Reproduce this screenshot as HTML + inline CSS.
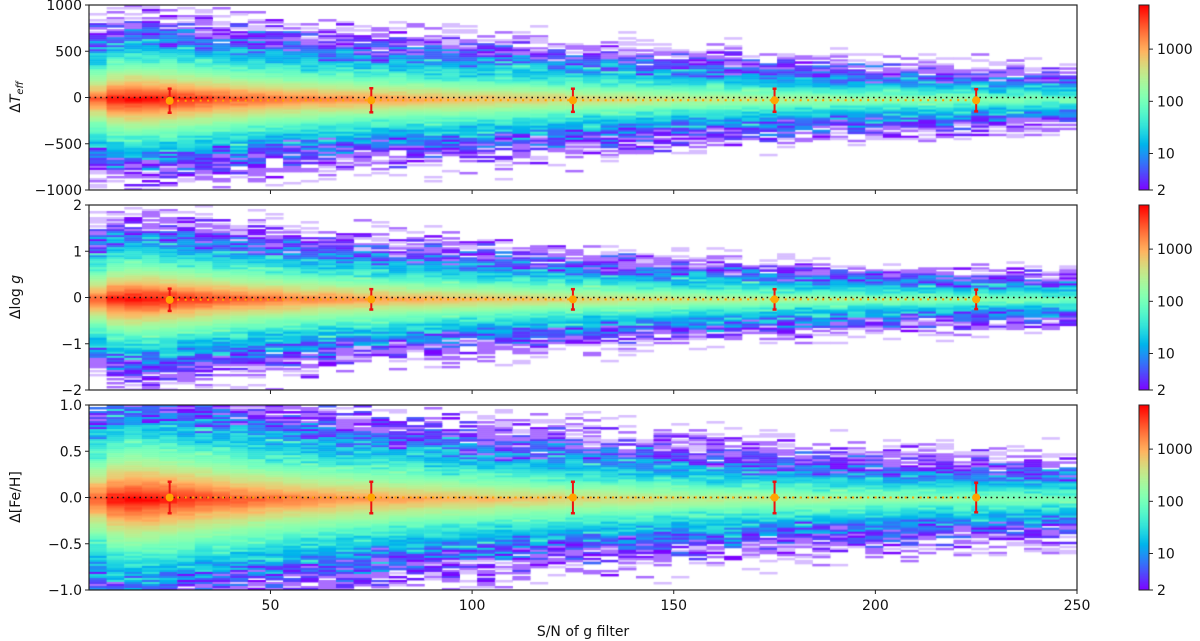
<!DOCTYPE html>
<html><head><meta charset="utf-8">
<style>
body{margin:0;background:#fff;width:1200px;height:641px;overflow:hidden;position:relative;font-family:"DejaVu Sans","Liberation Sans",sans-serif}
canvas{position:absolute}
svg{position:absolute;left:0;top:0}
</style></head><body>
<canvas id="c0" width="988" height="185" style="left:89px;top:5px"></canvas>
<canvas id="c1" width="988" height="185" style="left:89px;top:205px"></canvas>
<canvas id="c2" width="988" height="185" style="left:89px;top:405px"></canvas>
<canvas id="cb0" width="10" height="185" style="left:1139px;top:5px"></canvas>
<canvas id="cb1" width="10" height="185" style="left:1139px;top:205px"></canvas>
<canvas id="cb2" width="10" height="185" style="left:1139px;top:405px"></canvas>
<svg id="ov" width="1200" height="641"></svg>
<script>
// ---- data ----
const xMin = 5, xMax = 250, binW = 4.375;
const peakCounts = [3000,6000,7000,6500,5600,4800,4100,3500,3000,2600,2300,2050,1850,1700,1550,1450,1350,1250,1150,1080,1000,930,870,810,760,710,660,620,580,540,500,470,440,410,380,360,340,320,300,285,270,255,240,228,216,205,195,185,176,168,160,152,145,138,131,125];
const scaleTeff = [0.105,0.106,0.106,0.106,0.106,0.106,0.106,0.106,0.106,0.105,0.105,0.105,0.105,0.105,0.104,0.104,0.104,0.104,0.104,0.103,0.103,0.103,0.102,0.102,0.101,0.1,0.099,0.098,0.097,0.096,0.095,0.094,0.093,0.092,0.091,0.09,0.089,0.088,0.087,0.086,0.085,0.084,0.083,0.082,0.081,0.08,0.079,0.078,0.077,0.076,0.075,0.074,0.074,0.073,0.073,0.072];
const scaleLogg = [0.105,0.106,0.106,0.106,0.106,0.105,0.105,0.104,0.104,0.103,0.103,0.102,0.101,0.1,0.099,0.098,0.097,0.096,0.095,0.094,0.093,0.092,0.091,0.09,0.089,0.088,0.087,0.086,0.085,0.084,0.083,0.082,0.081,0.08,0.079,0.078,0.077,0.076,0.075,0.074,0.073,0.072,0.071,0.07,0.07,0.069,0.069,0.068,0.068,0.067,0.067,0.066,0.066,0.066,0.065,0.065];
const scaleFeh = [0.15,0.152,0.152,0.151,0.15,0.149,0.148,0.147,0.146,0.145,0.144,0.143,0.142,0.14,0.139,0.138,0.136,0.135,0.134,0.132,0.131,0.13,0.128,0.127,0.126,0.124,0.123,0.122,0.121,0.12,0.119,0.118,0.117,0.116,0.115,0.114,0.113,0.112,0.111,0.11,0.11,0.109,0.109,0.108,0.108,0.107,0.107,0.106,0.106,0.105,0.105,0.105,0.104,0.104,0.104,0.104];
const errSN = [25,75,125,175,225];
const meanTeff = [-35,-30,-30,-30,-30];
const sdTeff = [130,130,125,125,120];
const meanLogg = [-0.05,-0.04,-0.04,-0.04,-0.04];
const sdLogg = [0.24,0.22,0.22,0.22,0.21];
const meanFeh = [0,0,0,0,0];
const sdFeh = [0.17,0.17,0.17,0.17,0.16];
const yTicksTeff = [1000,500,0,-500,-1000];
const yTickLblTeff = ["1000","500","0","\u2212500","\u22121000"];
const yTicksLogg = [2,1,0,-1,-2];
const yTickLblLogg = ["2","1","0","\u22121","\u22122"];
const yTicksFeh = [1,0.5,0,-0.5,-1];
const yTickLblFeh = ["1.0","0.5","0.0","\u22120.5","\u22121.0"];
const xTicks = [50,100,150,200,250];
const cbTicks = [2,10,100,1000];
const cbLabels = ["2","10","100","1000"];
const vmin = 2, vmax = 7000;

// ---- helpers ----
const L = 89, R = 1077, H = 185;
const tops = [5,205,405];
const xs = v => L + (v - xMin) / (xMax - xMin) * (R - L);
function rainbow(t){t=Math.max(0,Math.min(1,t));
  const r=Math.min(1,Math.abs(2*t-0.5)),g=Math.sin(Math.PI*t),b=Math.cos(Math.PI*t/2);
  return `rgb(${Math.round(r*255)},${Math.round(g*255)},${Math.round(b*255)})`;}
const cnorm = c => (Math.log10(c)-Math.log10(vmin))/(Math.log10(vmax)-Math.log10(vmin));
function hash(a,b,p){let h=(a*374761393+b*668265263+p*2147483647)|0;h=(h^(h>>>13))*1274126177|0;h^=h>>>16;return ((h>>>0)%100000)/100000;}

const panels = [
 {scale:scaleTeff, half:1000, mean:meanTeff, sd:sdTeff, ticks:yTicksTeff, lbl:yTickLblTeff},
 {scale:scaleLogg, half:2, mean:meanLogg, sd:sdLogg, ticks:yTicksLogg, lbl:yTickLblLogg},
 {scale:scaleFeh, half:1, mean:meanFeh, sd:sdFeh, ticks:yTicksFeh, lbl:yTickLblFeh}
];
const NS = "http://www.w3.org/2000/svg";
const ov = document.getElementById('ov');
function el(tag, attrs, parent, name, txt){
  const e=document.createElementNS(NS,tag);
  for(const k in attrs)e.setAttribute(k,attrs[k]);
  
  
  if(txt!==undefined)e.textContent=txt;
  (parent||ov).appendChild(e);return e;}

const rows = 92;
panels.forEach((p,pi)=>{
  const top=tops[pi];
  const ys = v => top + H/2 - v/p.half*(H/2);
  const ctx=document.getElementById('c'+pi).getContext('2d');
  for(let i=0;i<peakCounts.length;i++){
    const x0=xs(xMin+i*binW)-L, x1=xs(xMin+(i+1)*binW)-L;
    const s=p.scale[i];
    for(let r=0;r<rows;r++){
      const yn=1-(r+0.5)/rows*2;
      const d=Math.abs(yn+0.02);
      let c=peakCounts[i]*(0.7*Math.exp(-d/(0.6*s))+0.3*Math.exp(-d/(1.1*s)));
      const g=(hash(i,r,pi)+hash(r,i,pi+7)+hash(i+r,r,pi+3)-1.5)*2;
      const amp = c<15 ? 0.8 : (c<80 ? 0.35 : 0.1);
      c*=Math.exp(amp*g);
      let col=null;
      if(c>=vmin) col=rainbow(cnorm(c));
      else if(c>=1.0) col='rgb(170,110,255)';
      else if(c>=0.5 && hash(r,i,pi+11)>0.45) col='rgb(215,190,255)';
      if(col){ctx.fillStyle=col;ctx.fillRect(x0,r*H/rows,x1-x0+0.5,H/rows+0.5);}
    }
  }
  // colorbar
  const cb=document.getElementById('cb'+pi).getContext('2d');
  for(let k=0;k<H;k++){cb.fillStyle=rainbow(1-k/H);cb.fillRect(0,k,10,1);}
  const g=el('g',{},ov,'panel-'+pi);
  el('rect',{x:1139,y:top,width:10,height:H,fill:'none',stroke:'#222','stroke-width':1},g,'colorbar-frame');
  cbTicks.forEach((v,k)=>{const y=top+H-cnorm(v)*H;
    el('line',{x1:1149,x2:1153,y1:y,y2:y,stroke:'#222'},g,'colorbar-tick');
    el('text',{x:1157,y:y+5,'font-size':14,fill:'#111'},g,'colorbar-label',cbLabels[k]);});
  // zero line
  el('line',{x1:L,x2:R,y1:ys(0),y2:ys(0),stroke:'#111','stroke-width':1.6,'stroke-dasharray':'1.6 4'},g,'zero-line');
  // mean line
  const pts=errSN.map((s,k)=>xs(s)+','+ys(p.mean[k])).join(' ');
  el('polyline',{points:pts,fill:'none',stroke:'#ffa500','stroke-width':2,'stroke-dasharray':'2 5.5'},g,'mean-line');
  errSN.forEach((s,k)=>{const x=xs(s),y=ys(p.mean[k]),y1=ys(p.mean[k]+p.sd[k]),y2=ys(p.mean[k]-p.sd[k]);
    el('line',{x1:x,x2:x,y1:y1,y2:y2,stroke:'#ee1111','stroke-width':2},g,'error-bar');
    el('line',{x1:x-2,x2:x+2,y1:y1,y2:y1,stroke:'#ee1111','stroke-width':2.5},g,'error-cap');
    el('line',{x1:x-2,x2:x+2,y1:y2,y2:y2,stroke:'#ee1111','stroke-width':2.5},g,'error-cap');
    el('circle',{cx:x,cy:y,r:4,fill:'#ffa500'},g,'mean-point');});
  // frame
  el('rect',{x:L,y:top,width:R-L,height:H,fill:'none',stroke:'#222','stroke-width':1.2},g,'axes-frame');
  p.ticks.forEach((v,k)=>{const y=ys(v);
    el('line',{x1:L-4,x2:L,y1:y,y2:y,stroke:'#222'},g,'y-tick');
    el('text',{x:L-7,y:y+5,'font-size':14,'text-anchor':'end',fill:'#111'},g,'y-tick-label',p.lbl[k]);});
  xTicks.forEach(v=>{const x=xs(v);
    el('line',{x1:x,x2:x,y1:top+H,y2:top+H+4,stroke:'#222'},g,'x-tick');
    if(pi===2) el('text',{x:x,y:top+H+20,'font-size':14,'text-anchor':'middle',fill:'#111'},g,'x-tick-label',String(v));});
});
// y labels
const yl=[['\u0394<tspan font-style="italic">T</tspan><tspan font-size="10" dy="3" font-style="italic">eff</tspan>',97],
          ['\u0394log <tspan font-style="italic">g</tspan>',297],['\u0394[Fe/H]',497]];
yl.forEach((a,i)=>{const t=el('text',{x:0,y:0,'font-size':14,'text-anchor':'middle',fill:'#111',transform:`translate(20,${a[1]}) rotate(-90)`},ov,'y-axis-title');t.innerHTML=a[0];});
el('text',{x:583,y:636,'font-size':14,'text-anchor':'middle',fill:'#111'},ov,'x-axis-title','S/N of g filter');
</script>
</body></html>
